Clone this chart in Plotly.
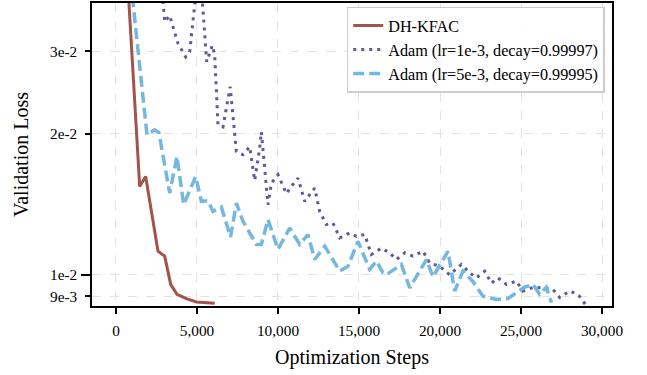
import plotly.graph_objects as go
import numpy as np

# ---------------- data ----------------
kfac_steps = [600, 1463, 1833, 2593, 3006, 3377, 3765, 4346, 4963, 6093]
kfac_loss = [0.05, 0.01545, 0.01622, 0.01123, 0.01096, 0.00954, 0.00908, 0.00889, 0.00875, 0.00869]

adam1_steps = [2750, 3006, 3315, 3827, 4302, 4549, 5150, 5600, 5951, 6093, 6296, 6605, 7050,
               7432, 7840, 8253, 8562, 8870, 8975, 9383, 9593, 10000, 10519, 10827, 11235,
               11648, 11957, 12265, 12574, 12988, 13395, 13809, 14426, 14840, 15352, 15765,
               16383, 16895, 17307, 17821, 18333, 18951, 19364, 19975, 20599, 21321, 21833,
               22247, 22759, 23173, 23580, 24099, 24716, 25123, 25741, 26358, 26975, 27389,
               28006, 28519, 28827, 29100]
adam1_loss = [0.045, 0.0347, 0.0358, 0.0312, 0.0292, 0.0299, 0.047, 0.0285, 0.0309, 0.0295,
              0.0209, 0.0207, 0.0252, 0.01834, 0.01805, 0.01878, 0.0159, 0.01864, 0.0202,
              0.01412, 0.0157, 0.01636, 0.0149, 0.01545, 0.01609, 0.01435, 0.01483, 0.01532,
              0.01366, 0.0128, 0.0129, 0.01199, 0.01229, 0.01208, 0.01219, 0.01105, 0.0114,
              0.01114, 0.01078, 0.01114, 0.01096, 0.01123, 0.0106, 0.01043, 0.0100, 0.01052,
              0.0101, 0.00985, 0.01018, 0.0096, 0.00985, 0.00954, 0.00969, 0.00923, 0.0094,
              0.00938, 0.0093, 0.00894, 0.00923, 0.00908, 0.00879, 0.0085]

adam2_steps = [800, 1914, 2389, 2654, 3315, 3765, 4179, 4920, 5270, 5679, 5988, 6506, 7070,
               7432, 7840, 8667, 8975, 9383, 10000, 10722, 11340, 11852, 12265, 12883, 13809,
               14321, 14938, 15660, 16074, 16481, 16691, 17617, 18130, 18700, 19160, 19568,
               20100, 20494, 20907, 21420, 22000, 22654, 23482, 24200, 24716, 25200, 25741,
               26154, 26568, 26877]
adam2_loss = [0.046, 0.0199, 0.0204, 0.0201, 0.01495, 0.0179, 0.01412, 0.01622, 0.01435,
              0.0144, 0.01366, 0.01395, 0.01204, 0.01423, 0.01301, 0.01161, 0.01161, 0.01312,
              0.01133, 0.01259, 0.01161, 0.01219, 0.01078, 0.01151, 0.01018, 0.01043, 0.01179,
              0.01027, 0.0107, 0.0101, 0.0100, 0.01052, 0.00938, 0.0101, 0.01078, 0.0099,
              0.0106, 0.01123, 0.00923, 0.01018, 0.0097, 0.0090, 0.00886, 0.0089, 0.00916,
              0.0094, 0.00954, 0.00908, 0.0094, 0.00872]

x_ticks = [0, 5000, 10000, 15000, 20000, 25000, 30000]
x_ticktext = ["0", "5,000", "10,000", "15,000", "20,000", "25,000", "30,000"]
y_ticks = [0.009, 0.01, 0.02, 0.03]
y_ticktext = ["9e-3", "1e-2", "2e-2", "3e-2"]
y_major = [0.01]

names = ["DH-KFAC", "Adam (lr=1e-3, decay=0.99997)", "Adam (lr=5e-3, decay=0.99995)"]

# ---------------- figure ----------------
FONT = "Liberation Serif"
fig = go.Figure()
fig.add_trace(go.Scatter(x=kfac_steps, y=kfac_loss, mode="lines", name=names[0],
                         line=dict(color="#A0544B", width=3)))
fig.add_trace(go.Scatter(x=adam1_steps, y=adam1_loss, mode="lines", name=names[1],
                         line=dict(color="#5A5A9C", width=3, dash="3px,5px")))
fig.add_trace(go.Scatter(x=adam2_steps, y=adam2_loss, mode="lines", name=names[2],
                         line=dict(color="#74B8E2", width=3.5, dash="11px,5px")))

grid = dict(showgrid=True, gridcolor="#e3e3e3", gridwidth=1.3, griddash="dash")
fig.update_layout(
    width=647, height=375, autosize=False,
    margin=dict(l=92, r=35, t=1, b=69),
    paper_bgcolor="white", plot_bgcolor="white",
    font=dict(family=FONT, color="black", size=15),
    showlegend=True,
    legend=dict(x=0.986, y=0.987, xanchor="right", yanchor="top",
                bgcolor="rgba(255,255,255,0.85)", bordercolor="#cccccc", borderwidth=1.5,
                font=dict(family=FONT, size=16.2, color="black"),
                tracegroupgap=0, itemwidth=30),
    xaxis=dict(range=[-1480, 30617], tickvals=x_ticks, ticktext=x_ticktext,
               ticks="outside", ticklen=6, tickwidth=1.5, tickcolor="black",
               ticklabelstandoff=4,
               showline=True, linecolor="black", linewidth=1.5, mirror=True,
               zeroline=False, tickfont=dict(size=15.3),
               title=dict(text="Optimization Steps", font=dict(size=20), standoff=12),
               **grid),
    yaxis=dict(type="log", range=[np.log10(0.008577), np.log10(0.03807)],
               tickvals=y_ticks, ticktext=y_ticktext,
               ticks="outside", ticklen=5, tickwidth=1.5, tickcolor="black",
               ticklabelstandoff=5,
               minor=dict(tickvals=y_major, ticks="outside", ticklen=9, tickwidth=1.5,
                          tickcolor="black", showgrid=False),
               showline=True, linecolor="black", linewidth=1.5, mirror=True,
               zeroline=False, tickfont=dict(size=15.3),
               title=dict(text="Validation Loss", font=dict(size=20), standoff=16),
               **grid),
)

fig.write_html("out.html")
